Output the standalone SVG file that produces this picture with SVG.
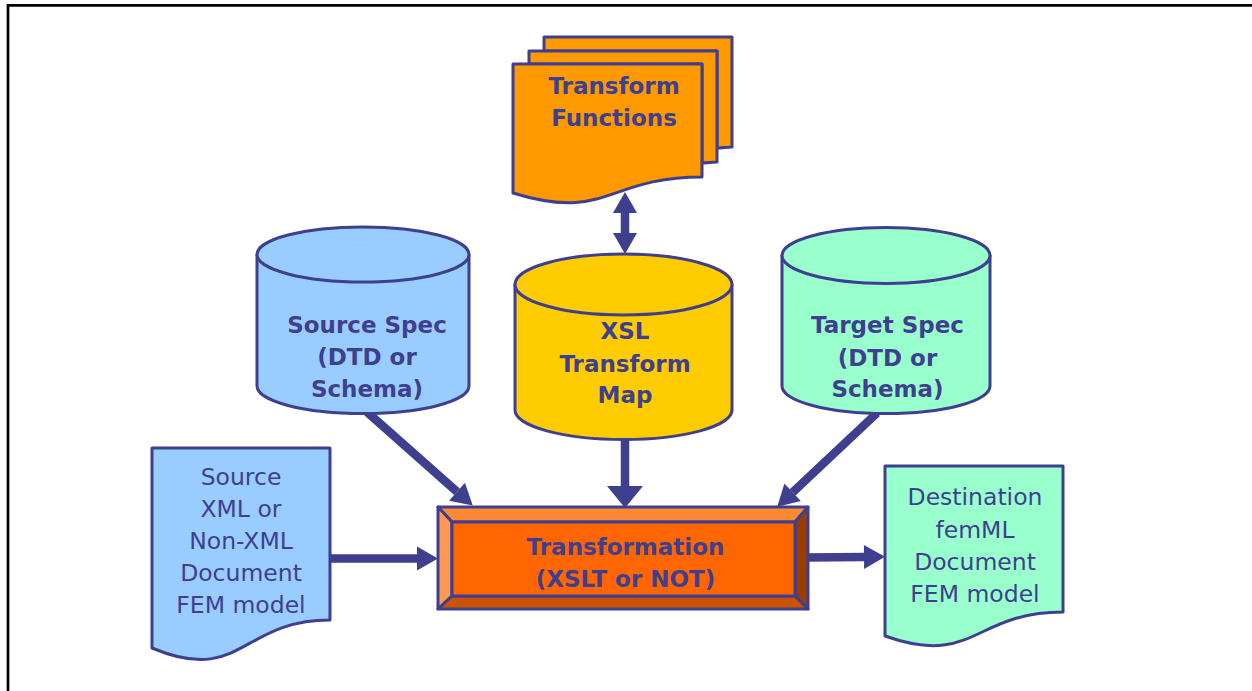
<svg xmlns="http://www.w3.org/2000/svg" width="1252" height="691" viewBox="0 0 1252 691">
  <style>
    .ln { stroke: #3f3f8f; stroke-width: 3; stroke-linejoin: round; }
    .conn { stroke: #3f3f8f; stroke-width: 8.5; fill: none; }
    .t { font-family: "DejaVu Sans", Verdana, sans-serif; fill: #3f3f8f; text-anchor: middle; }
    .b { font-size: 23px; font-weight: bold; }
    .r { font-size: 23.5px; }
    .blue { fill: #99ccff; }
    .green { fill: #99ffcc; }
    .gold { fill: #ffcc00; }
    .amber { fill: #ff9900; }
  </style>
  <defs>
    <marker id="head" markerUnits="userSpaceOnUse" markerWidth="21" markerHeight="24" refX="0" refY="12" orient="auto-start-reverse" overflow="visible">
      <path d="M0,0 L21,12 L0,24 Z" fill="#3f3f8f"/>
    </marker>
    <marker id="wide" markerUnits="userSpaceOnUse" markerWidth="22" markerHeight="36" refX="0" refY="18" orient="auto" overflow="visible">
      <path d="M0,0 L22,18 L0,36 Z" fill="#3f3f8f"/>
    </marker>
  </defs>

  <rect width="1252" height="691" fill="#ffffff"/>
  <!-- slide frame -->
  <path d="M8,700 V5.3 H1260" fill="none" stroke="#000000" stroke-width="2.7"/>

  <g id="connectors">
    <!-- Transform Functions <-> XSL map -->
    <line class="conn" x1="625" y1="213" x2="625" y2="233" marker-start="url(#head)" marker-end="url(#head)"/>
    <!-- XSL map -> Transformation -->
    <line class="conn" x1="625" y1="436" x2="625" y2="486" marker-end="url(#wide)"/>
    <!-- Source Spec -> Transformation -->
    <line class="conn" x1="367" y1="412" x2="457" y2="491.7" marker-end="url(#head)"/>
    <!-- Target Spec -> Transformation -->
    <line class="conn" x1="877" y1="413" x2="792.6" y2="492.3" marker-end="url(#head)"/>
    <!-- Source document -> Transformation -->
    <line class="conn" x1="328" y1="558.5" x2="417" y2="558.5" marker-end="url(#head)"/>
    <!-- Transformation -> Destination document -->
    <line class="conn" x1="806" y1="557.5" x2="864" y2="557" marker-end="url(#head)"/>
  </g>

  <g id="transform-functions">
    <path class="ln amber" d="M544,37 H732 V147 C727,147 722,148 717,148 V51 H544 Z"/>
    <path class="ln amber" d="M529,51 H717 V162 C712,162 707,163 702,163 V64 H529 Z"/>
    <path class="ln amber" d="M513,64 H702 V177 C607,177 607,222 513,193 Z"/>
    <text class="t b" x="614" y="94.3">Transform</text>
    <text class="t b" x="614" y="125.7">Functions</text>
  </g>

  <g id="source-spec">
    <path class="ln blue" d="M257,254.5 V386 A106,27.5 0 0 0 469,386 V254.5 Z"/>
    <ellipse class="ln blue" cx="363" cy="254.5" rx="106" ry="27.5"/>
    <text class="t b" x="367" y="333">Source Spec</text>
    <text class="t b" x="367" y="365">(DTD or</text>
    <text class="t b" x="367" y="397">Schema)</text>
  </g>

  <g id="xsl-map">
    <path class="ln gold" d="M515,284.5 V410 A108.5,29.5 0 0 0 732,410 V284.5 Z"/>
    <ellipse class="ln gold" cx="623.5" cy="284.5" rx="108.5" ry="30.5"/>
    <text class="t b" x="625" y="339.3">XSL</text>
    <text class="t b" x="625" y="371.7">Transform</text>
    <text class="t b" x="625" y="403">Map</text>
  </g>

  <g id="target-spec">
    <path class="ln green" d="M782,255.5 V386 A104,27.5 0 0 0 990,386 V255.5 Z"/>
    <ellipse class="ln green" cx="886" cy="255.5" rx="104" ry="28"/>
    <text class="t b" x="887.5" y="333">Target Spec</text>
    <text class="t b" x="887.5" y="365.5">(DTD or</text>
    <text class="t b" x="887.5" y="397">Schema)</text>
  </g>

  <g id="source-document">
    <path class="ln blue" d="M152,448 H330 V620 C241,620 241,685.5 152,648 Z"/>
    <text class="t r" x="241" y="485">Source</text>
    <text class="t r" x="241" y="517">XML or</text>
    <text class="t r" x="241" y="549">Non-XML</text>
    <text class="t r" x="241" y="581">Document</text>
    <text class="t r" x="241" y="613">FEM model</text>
  </g>

  <g id="transformation">
    <polygon points="438,507 808,507 795,522 452,522" fill="#ff8833" class="ln"/>
    <polygon points="438,507 452,522 452,596 438,609" fill="#ff9955" class="ln"/>
    <polygon points="808,507 808,609 795,596 795,522" fill="#993d00" class="ln"/>
    <polygon points="438,609 808,609 795,596 452,596" fill="#cc5200" class="ln"/>
    <rect x="452" y="522" width="343" height="74" fill="#ff6600" class="ln"/>
    <text class="t b" x="625.5" y="554.5">Transformation</text>
    <text class="t b" x="625.5" y="587">(XSLT or NOT)</text>
  </g>

  <g id="destination-document">
    <path class="ln green" d="M885,466 H1063 V612 C974,612 974,667.5 885,636 Z"/>
    <text class="t r" x="975" y="505">Destination</text>
    <text class="t r" x="975" y="537.5">femML</text>
    <text class="t r" x="975" y="570">Document</text>
    <text class="t r" x="975" y="602">FEM model</text>
  </g>
</svg>
